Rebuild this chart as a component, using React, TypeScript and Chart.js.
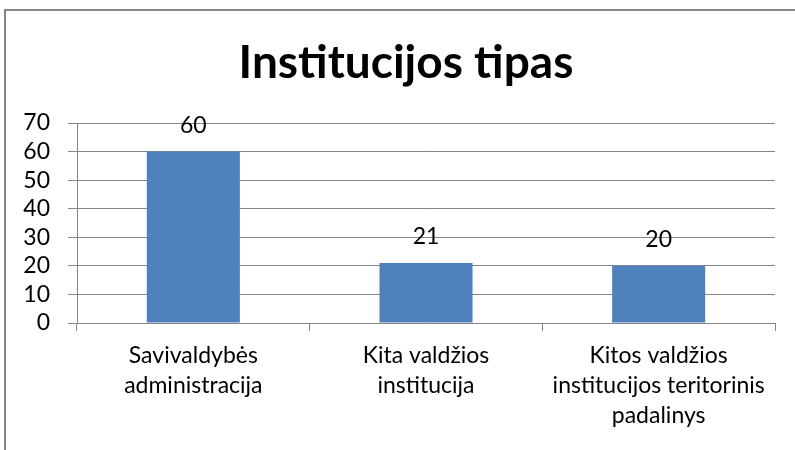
import React, { useEffect, useRef } from "react";
import { Chart, registerables } from "chart.js";

Chart.register(...registerables);

const TITLE = "Institucijos tipas";
const CATEGORIES: string[][] = [
  ["Savivaldybės", "administracija"],
  ["Kita valdžios", "institucija"],
  ["Kitos valdžios", "institucijos teritorinis", "padalinys"],
];
const VALUES: number[] = [60, 21, 20];
const Y_MIN = 0;
const Y_MAX = 70;
const Y_STEP = 10;

const FONT = "Lato, 'Open Sans', sans-serif";
const BAR_COLOR = "#4F81BD";
const GRID_COLOR = "#868686";

const borderPlugin = {
  id: "outerBorder",
  beforeDraw(chart: any) {
    const ctx = chart.ctx;
    ctx.save();
    ctx.fillStyle = "#ffffff";
    ctx.fillRect(0, 0, chart.width, chart.height);
    ctx.strokeStyle = GRID_COLOR;
    ctx.lineWidth = 2;
    ctx.strokeRect(5, 10, chart.width + 20, chart.height + 20);
    ctx.restore();
  },
  afterDraw(chart: any) {
    const ctx = chart.ctx;
    ctx.save();
    ctx.font = `bold 46px ${FONT}`;
    ctx.fillStyle = "#000000";
    ctx.textAlign = "center";
    ctx.textBaseline = "middle";
    ctx.fillText(TITLE, 406, 63);
    ctx.restore();
  },
};

const valueLabelPlugin = {
  id: "valueLabels",
  afterDatasetsDraw(chart: any) {
    const ctx = chart.ctx;
    ctx.save();
    ctx.font = `23px ${FONT}`;
    ctx.fillStyle = "#000000";
    ctx.textAlign = "center";
    ctx.textBaseline = "middle";
    chart.data.datasets.forEach((ds: any, i: number) => {
      const meta = chart.getDatasetMeta(i);
      meta.data.forEach((bar: any, j: number) => {
        ctx.fillText(String(ds.data[j]), bar.x, bar.y - 26);
      });
    });
    ctx.restore();
  },
};

export default function App() {
  const ref = useRef<HTMLCanvasElement | null>(null);

  useEffect(() => {
    if (!ref.current) return;
    const chart = new Chart(ref.current, {
      type: "bar",
      data: {
        labels: CATEGORIES,
        datasets: [
          {
            data: VALUES,
            backgroundColor: BAR_COLOR,
            borderWidth: 0,
            barPercentage: 0.4,
            categoryPercentage: 1,
          },
        ],
      },
      options: {
        responsive: false,
        animation: false,
        devicePixelRatio: 1,
        layout: { padding: { left: 0, right: 20, top: 123, bottom: 0 } },
        plugins: {
          legend: { display: false },
          tooltip: { enabled: false },
          title: { display: false },
        },
        scales: {
          x: {
            grid: {
              display: true,
              drawOnChartArea: false,
              drawTicks: true,
              tickLength: 8,
              color: GRID_COLOR,
              offset: true,
            },
            border: { display: true, color: GRID_COLOR, width: 1 },
            ticks: {
              color: "#000000",
              font: { family: FONT, size: 23, lineHeight: 1.3 },
              padding: 10,
              maxRotation: 0,
              autoSkip: false,
            },
            afterFit(scale: any) {
              scale.height = 127;
            },
          },
          y: {
            min: Y_MIN,
            max: Y_MAX,
            grid: {
              display: true,
              drawOnChartArea: true,
              drawTicks: true,
              tickLength: 9,
              color: GRID_COLOR,
            },
            border: { display: true, color: GRID_COLOR, width: 1 },
            ticks: {
              stepSize: Y_STEP,
              autoSkip: false,
              color: "#000000",
              font: { family: FONT, size: 23, lineHeight: 1 },
              padding: 18,
            },
            afterFit(scale: any) {
              scale.width = 77;
            },
          },
        },
      },
      plugins: [borderPlugin, valueLabelPlugin],
    });
    return () => chart.destroy();
  }, []);

  return (
    <div style={{ position: "absolute", left: 0, top: 0, width: 795, height: 450 }}>
      <canvas ref={ref} width={795} height={450} style={{ width: 795, height: 450 }} />
    </div>
  );
}
